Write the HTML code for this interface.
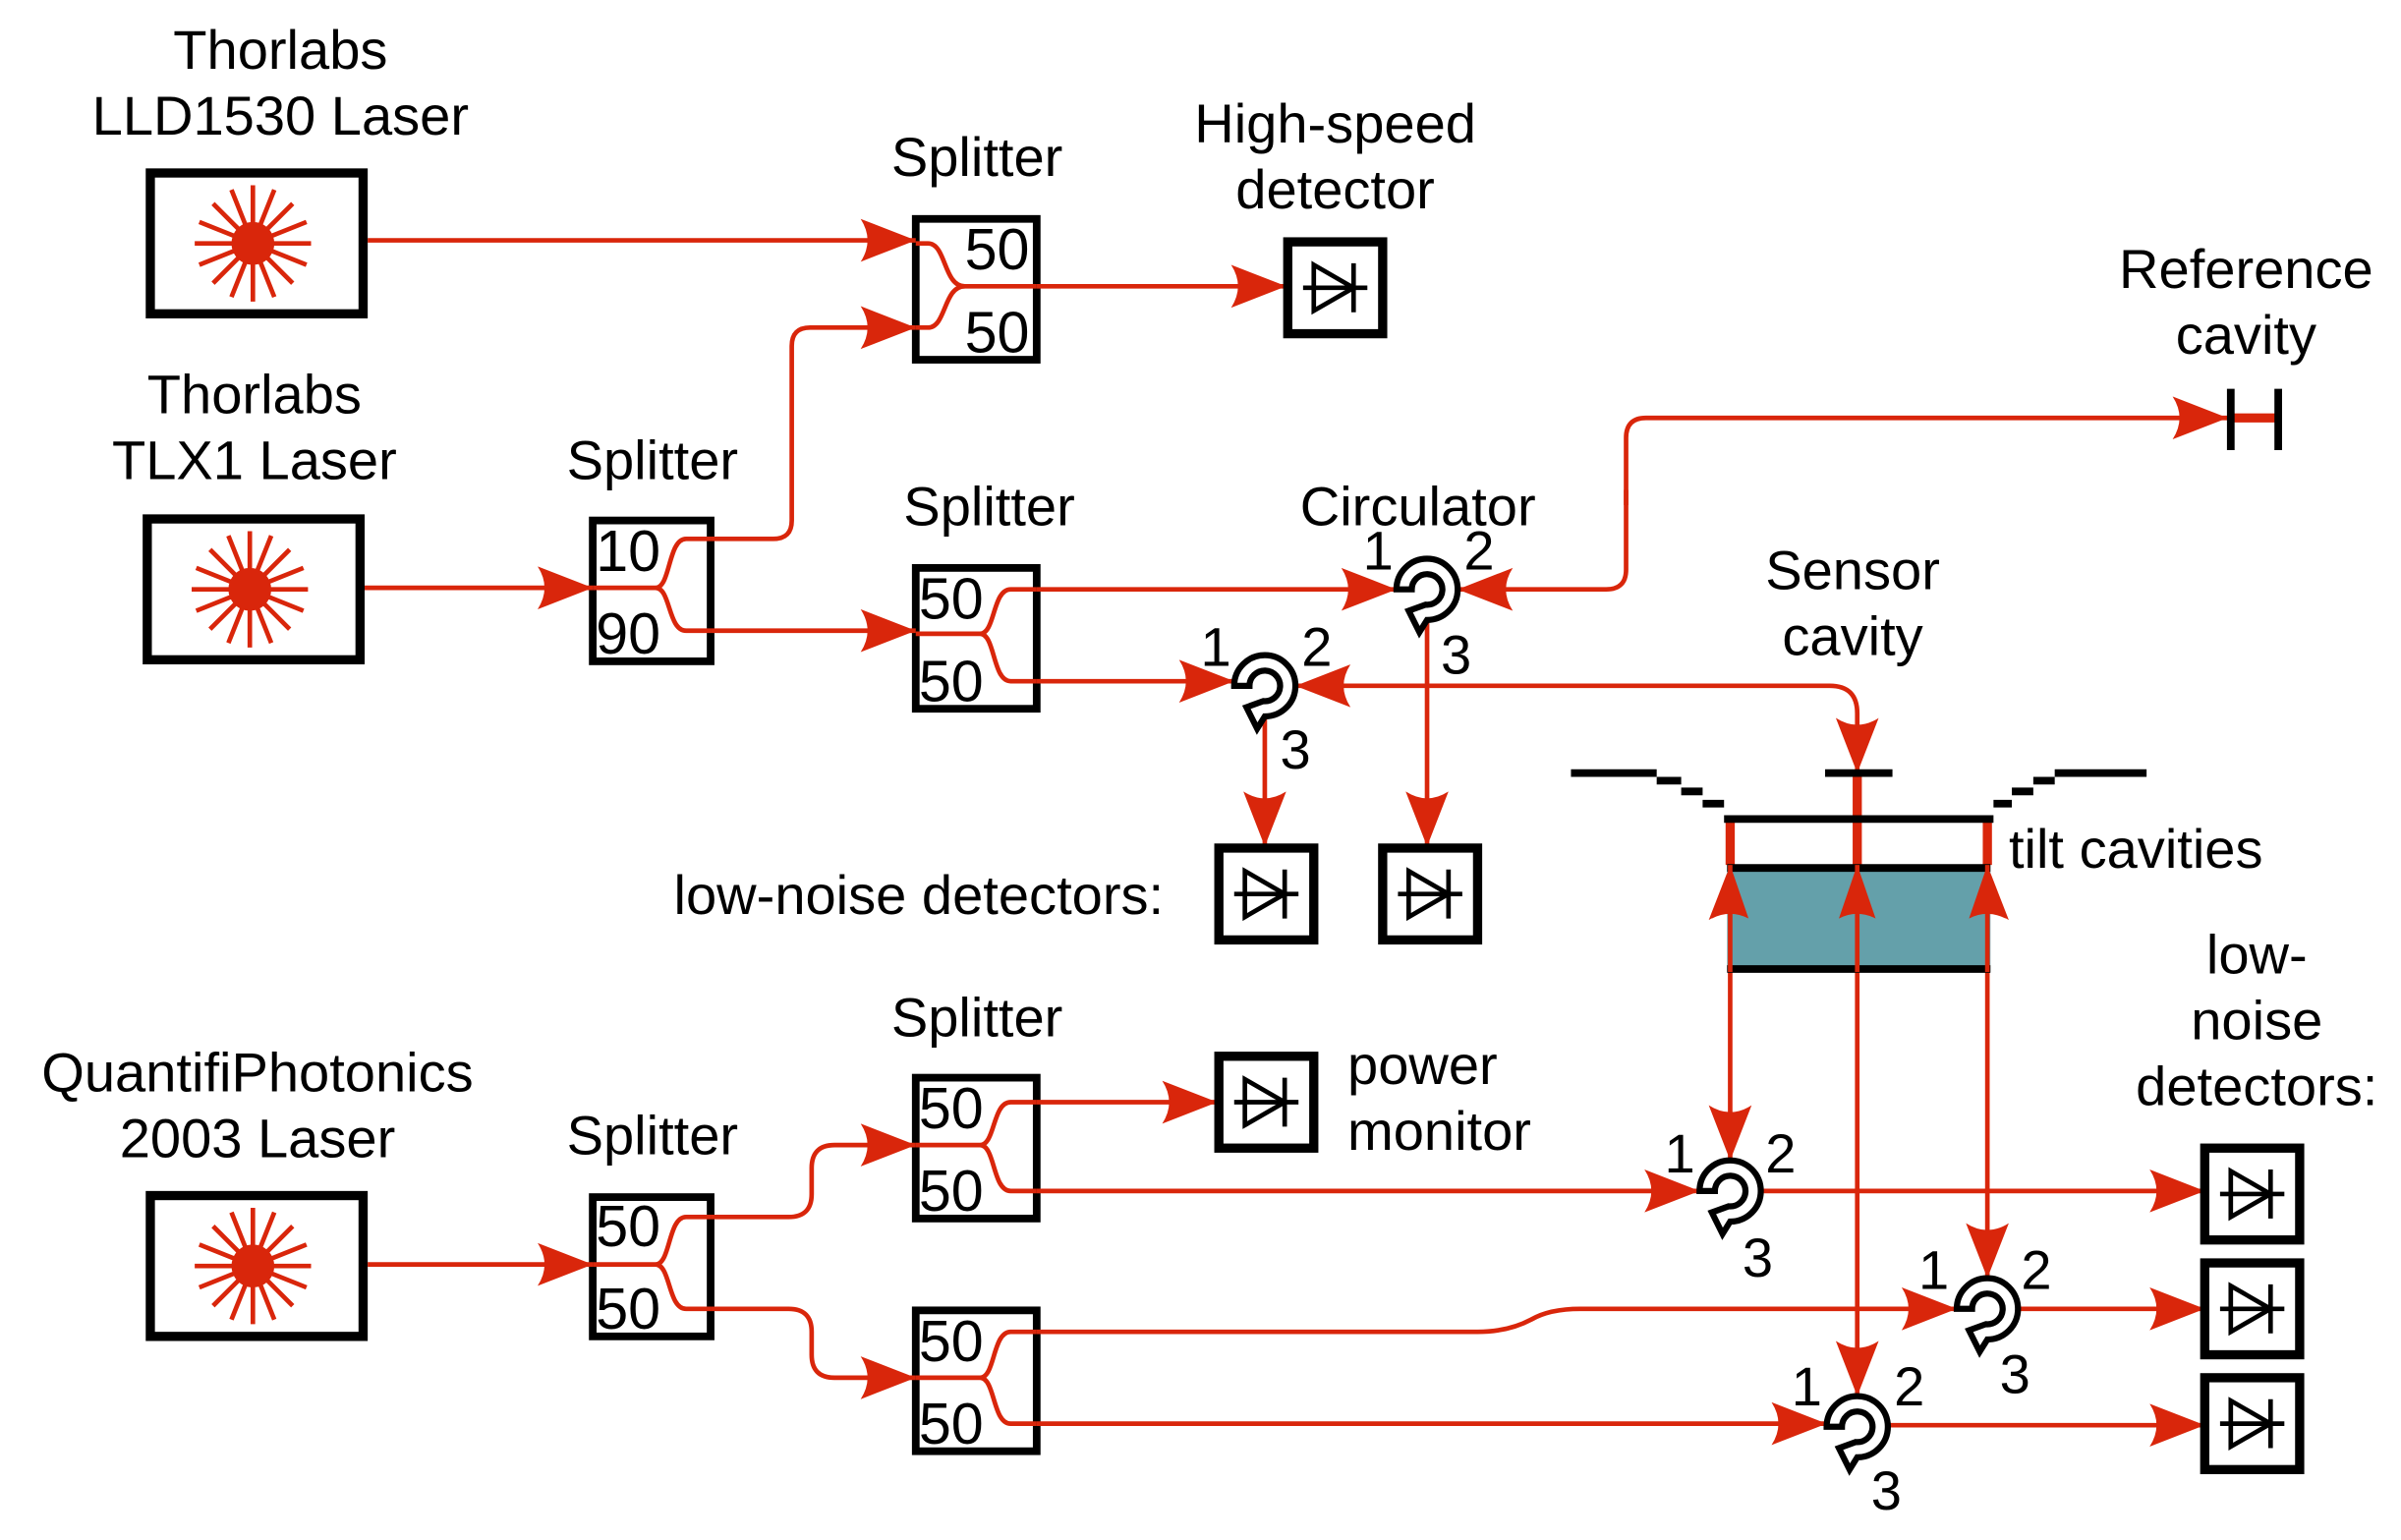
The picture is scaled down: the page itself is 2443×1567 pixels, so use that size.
<!DOCTYPE html>
<html><head><meta charset="utf-8"><style>
html,body{margin:0;padding:0;background:#fff}
svg{display:block}
text{font-family:"Liberation Sans",sans-serif;fill:#000}
</style></head><body>
<svg width="2443" height="1567" viewBox="0 0 1568 1006" xmlns="http://www.w3.org/2000/svg">
<defs>
<marker id="a" markerUnits="userSpaceOnUse" markerWidth="40" markerHeight="32" refX="36" refY="14" orient="auto-start-reverse">
<path d="M0,0 L36,14 L0,28 Q9,14 0,0Z" fill="#d9260b"/>
</marker>
<g id="star" stroke="#d9260b" stroke-width="3">
<line x1="-38" y1="0" x2="38" y2="0"/><line x1="0" y1="-38" x2="0" y2="38"/>
<line x1="-26" y1="-26" x2="26" y2="26"/><line x1="-26" y1="26" x2="26" y2="-26"/>
<line x1="-14" y1="-35" x2="14" y2="35"/><line x1="14" y1="-35" x2="-14" y2="35"/>
<line x1="-35" y1="-14" x2="35" y2="14"/><line x1="-35" y1="14" x2="35" y2="-14"/>
<circle r="14" fill="#d9260b" stroke="none"/>
</g>
<g id="det">
<rect x="0" y="0" width="62" height="60" fill="#fff" stroke="#000" stroke-width="6"/>
<g stroke="#000" stroke-width="3" fill="none">
<line x1="10" y1="30" x2="52" y2="30"/><path d="M17,15 L43,30 L17,45Z"/><line x1="43" y1="14" x2="43" y2="46"/>
</g></g>
<g id="circ" stroke="#000" stroke-width="4" fill="#fff">
<path d="M-20,0 A20,20 0 1 1 0,20 L-5,28 L-12,14 L-1,10 A10,10 0 1 0 -10,0 Z"/>
</g>
</defs>

<g fill="none" stroke="#000" stroke-width="6">
<rect x="98" y="113" width="139" height="92"/>
<rect x="96" y="339" width="139" height="92"/>
<rect x="98" y="781" width="139" height="92"/>
</g>
<use href="#star" x="165" y="159"/>
<use href="#star" x="163" y="385"/>
<use href="#star" x="165" y="827"/>

<g fill="none" stroke="#000" stroke-width="5">
<rect x="598" y="143" width="79" height="92"/>
<rect x="387" y="340" width="77" height="92"/>
<rect x="598" y="371" width="79" height="92"/>
<rect x="598" y="704" width="79" height="92"/>
<rect x="387" y="782" width="77" height="91"/>
<rect x="598" y="856" width="79" height="92"/>
</g>
<g fill="none" stroke="#d9260b" stroke-width="3">
<path d="M598,159 H606 C618,159 616,187 630,187 H677"/>
<path d="M598,214 H606 C618,214 616,187 630,187"/>
<path d="M387,384 H428 C438,384 436,352 448,352 H464 M428,384 C438,384 436,412 448,412 H464"/>
<path d="M598,414 H640 C650,414 648,385 660,385 H677 M640,414 C650,414 648,445 660,445 H677"/>
<path d="M598,748 H640 C650,748 648,720 660,720 H677 M640,748 C650,748 648,778 660,778 H677"/>
<path d="M387,826 H428 C438,826 436,795 448,795 H464 M428,826 C438,826 436,855 448,855 H464"/>
<path d="M598,900 H640 C650,900 648,870 660,870 H677 M640,900 C650,900 648,930 660,930 H677"/>
</g>
<g font-size="38">
<text x="630" y="176">50</text><text x="630" y="230">50</text>
<text x="389" y="373">10</text><text x="389" y="427">90</text>
<text x="600" y="404">50</text><text x="600" y="458">50</text>
<text x="600" y="737">50</text><text x="600" y="791">50</text>
<text x="389" y="814">50</text><text x="389" y="868">50</text>
<text x="600" y="889">50</text><text x="600" y="943">50</text>
</g>

<g fill="none" stroke="#d9260b" stroke-width="3" marker-end="url(#a)">
<path d="M240,157 H598"/>
<path d="M464,352 H505 Q517,352 517,340 V226 Q517,214 529,214 H598"/>
<path d="M677,187 H840"/>
<path d="M238,384 H387"/>
<path d="M464,412 H598"/>
<path d="M677,385 H912"/>
<path d="M677,445 H806"/>
<path d="M1062,320 V372 Q1062,385 1049,385 H952" marker-start="none"/>
<path d="M932,405 V553"/>
<path d="M826,468 V553"/>
<path d="M240,826 H387"/>
<path d="M464,795 H515 Q530,795 530,780 V763 Q530,748 545,748 H598"/>
<path d="M464,855 H515 Q530,855 530,870 V885 Q530,900 545,900 H598"/>
<path d="M677,720 H795"/>
<path d="M677,778 H1110"/>
<path d="M1150,778 H1440"/>
<path d="M677,870 H965 Q985,870 1000,862 Q1012,855 1032,855 H1278"/>
<path d="M1318,855 H1440"/>
<path d="M677,930 H1193"/>
<path d="M1233,931 H1440"/>
</g>
<g fill="none" stroke="#d9260b" stroke-width="3">
<path d="M1062,330 V286 Q1062,273 1075,273 H1455" marker-end="url(#a)"/>
<path d="M846,448 H1195 Q1213,448 1213,466 V505" marker-start="url(#a)" marker-end="url(#a)"/>
<path d="M1130,565 V758" marker-start="url(#a)" marker-end="url(#a)"/>
<path d="M1298,565 V835" marker-start="url(#a)" marker-end="url(#a)"/>
<path d="M1213,565 V912" marker-start="url(#a)" marker-end="url(#a)"/>
</g>
<line x1="1455" y1="273" x2="1488" y2="273" stroke="#d9260b" stroke-width="6"/>
<line x1="1457" y1="254" x2="1457" y2="294" stroke="#000" stroke-width="5"/>
<line x1="1488" y1="254" x2="1488" y2="294" stroke="#000" stroke-width="5"/>

<g stroke="#d9260b" stroke-width="6">
<line x1="1213" y1="505" x2="1213" y2="565"/>
<line x1="1130" y1="535" x2="1130" y2="565"/>
<line x1="1298" y1="535" x2="1298" y2="565"/>
</g>
<rect x="1128" y="565" width="172" height="70" fill="#64a0aa"/>
<g stroke="#000" stroke-width="5" fill="none">
<line x1="1192" y1="505" x2="1236" y2="505"/>
<line x1="1026" y1="505" x2="1082" y2="505"/>
<line x1="1082" y1="510" x2="1098" y2="510"/>
<line x1="1098" y1="517" x2="1112" y2="517"/>
<line x1="1112" y1="525" x2="1126" y2="525"/>
<line x1="1126" y1="535" x2="1302" y2="535"/>
<line x1="1302" y1="525" x2="1314" y2="525"/>
<line x1="1314" y1="517" x2="1328" y2="517"/>
<line x1="1328" y1="510" x2="1342" y2="510"/>
<line x1="1342" y1="505" x2="1402" y2="505"/>
<line x1="1128" y1="567" x2="1300" y2="567"/>
<line x1="1128" y1="633" x2="1300" y2="633"/>
</g>
<g stroke="#d9260b" stroke-width="3">
<line x1="1130" y1="565" x2="1130" y2="635"/><line x1="1213" y1="565" x2="1213" y2="635"/><line x1="1298" y1="565" x2="1298" y2="635"/>
</g>
<path d="M1130,565 L1142,600 Q1130,594 1118,600Z M1213,565 L1225,600 Q1213,594 1201,600Z M1298,565 L1310,600 Q1298,594 1286,600Z" fill="#d9260b"/>

<use href="#det" x="841" y="158"/>
<use href="#det" x="796" y="554"/>
<use href="#det" x="903" y="554"/>
<use href="#det" x="796" y="690"/>
<use href="#det" x="1440" y="750"/>
<use href="#det" x="1440" y="825"/>
<use href="#det" x="1440" y="900"/>

<use href="#circ" x="932" y="385"/>
<use href="#circ" x="826" y="448"/>
<use href="#circ" x="1130" y="778"/>
<use href="#circ" x="1298" y="855"/>
<use href="#circ" x="1213" y="932"/>
<g font-size="36">
<text x="890" y="372">1</text><text x="956" y="372">2</text><text x="941" y="440">3</text>
<text x="784" y="435">1</text><text x="850" y="435">2</text><text x="836" y="502">3</text>
<text x="1087" y="766">1</text><text x="1153" y="766">2</text><text x="1138" y="834">3</text>
<text x="1253" y="842">1</text><text x="1320" y="842">2</text><text x="1306" y="910">3</text>
<text x="1170" y="918">1</text><text x="1237" y="918">2</text><text x="1222" y="986">3</text>
</g>

<g font-size="36" text-anchor="middle">
<text x="183" y="45">Thorlabs</text><text x="183" y="88">LLD1530 Laser</text>
<text x="166" y="270">Thorlabs</text><text x="166" y="313">TLX1 Laser</text>
<text x="168" y="713">QuantifiPhotonics</text><text x="168" y="756">2003 Laser</text>
<text x="638" y="115">Splitter</text>
<text x="426" y="313">Splitter</text>
<text x="646" y="343">Splitter</text>
<text x="638" y="677">Splitter</text>
<text x="426" y="754">Splitter</text>
<text x="872" y="93">High-speed</text><text x="872" y="136">detector</text>
<text x="1467" y="188">Reference</text><text x="1467" y="231">cavity</text>
<text x="926" y="343">Circulator</text>
<text x="1210" y="385">Sensor</text><text x="1210" y="428">cavity</text>
<text x="1474" y="636">low-</text><text x="1474" y="679">noise</text><text x="1474" y="722">detectors:</text>
</g>
<g font-size="36">
<text x="1312" y="567">tilt cavities</text>
<text x="760" y="597" text-anchor="end">low-noise detectors:</text>
<text x="880" y="708">power</text><text x="880" y="751">monitor</text>
</g>
</svg>
</body></html>
